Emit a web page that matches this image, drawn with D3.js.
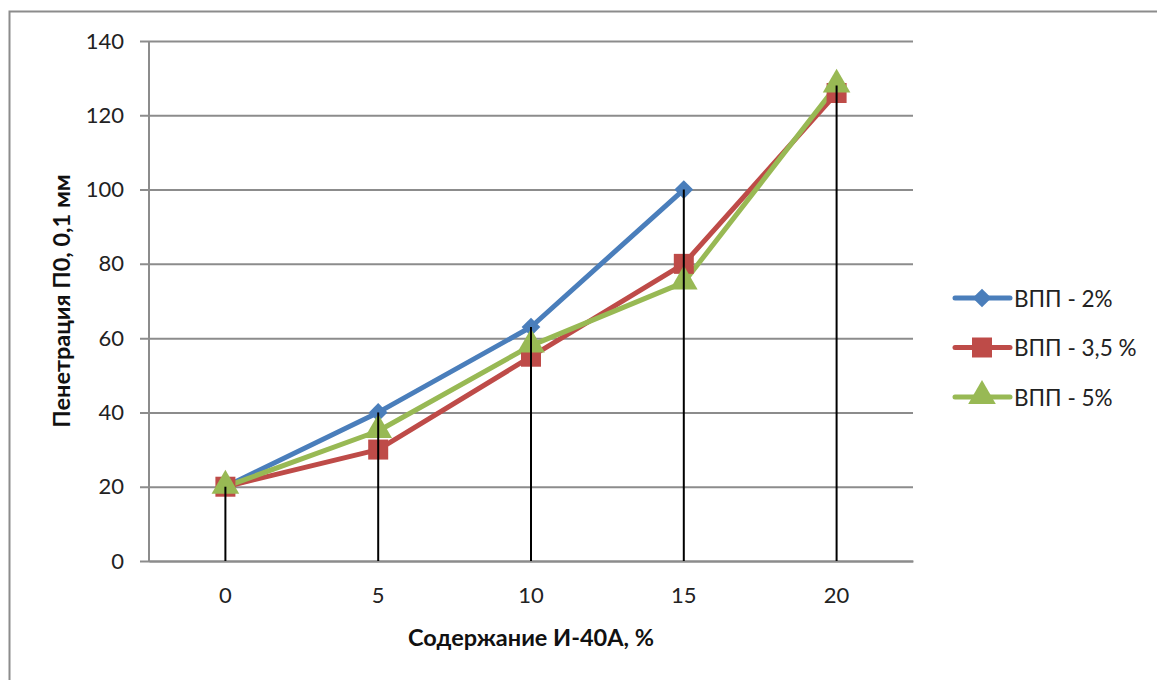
<!DOCTYPE html>
<html><head><meta charset="utf-8">
<script src="https://cdn.jsdelivr.net/npm/d3@7"></script>
<style>body{margin:0;background:#fff}svg{display:block}</style>
</head><body>
<svg id="c" width="1157" height="680"></svg>
<script>
const categories = ["0", "5", "10", "15", "20"];
const seriesNames = ["ВПП - 2%", "ВПП - 3,5 %", "ВПП - 5%"];
const vpp2 = [20, 40, 63, 100, null];
const vpp35 = [20, 30, 55, 80, 126];
const vpp5 = [20, 35, 58, 75, 128];
const yTicks = [0, 20, 40, 60, 80, 100, 120, 140];
const colors = ["#4A7EBB", "#BE4B48", "#98B954"];
const symbols = [d3.symbolSquare, d3.symbolSquare, d3.symbolTriangle];
const rotations = [45, 0, 0];

const series = [vpp2, vpp35, vpp5].map((v, i) => ({name: seriesNames[i], values: v, color: colors[i], symbol: symbols[i], rot: rotations[i]}));

const svg = d3.select("#c");
const font = "Lato, 'Open Sans', sans-serif";

// outer border
svg.append("rect").attr("x", 9.5).attr("y", 11.5).attr("width", 1160).attr("height", 700)
  .attr("fill", "none").attr("stroke", "#8c8c8c").attr("stroke-width", 2);

const L = 149, R = 913, T = 41, B = 561;
const x = d3.scaleBand().domain(categories).range([L, R]);
const cx = c => x(c) + x.bandwidth() / 2;
const y = d3.scaleLinear().domain([0, 140]).range([B, T]);

// gridlines + y axis
const yAxis = d3.axisLeft(y).tickValues(yTicks).tickSize(-(R - L)).tickPadding(25).tickSizeOuter(0);
const gy = svg.append("g").attr("transform", `translate(${L},0)`).call(yAxis);
gy.select(".domain").attr("stroke", "#8c8c8c").attr("stroke-width", 2).attr("d", `M0,${T}V${B}`);
gy.selectAll(".tick line").attr("stroke", "#8c8c8c").attr("stroke-width", 2).attr("x1", -9);
gy.selectAll(".tick text").attr("font-family", font).attr("font-size", 22).attr("fill", "#222");

// x axis
const xAxis = d3.axisBottom(x).tickSize(0).tickPadding(26);
const gx = svg.append("g").attr("transform", `translate(0,${B})`).call(xAxis);
gx.select(".domain").attr("stroke", "#8c8c8c").attr("stroke-width", 2);
gx.selectAll(".tick text").attr("font-family", font).attr("font-size", 22).attr("fill", "#222");

// lines
const line = d3.line().defined(d => d.v != null).x(d => cx(d.c)).y(d => y(d.v));
series.forEach(s => {
  const pts = s.values.map((v, i) => ({c: categories[i], v}));
  svg.append("path").datum(pts).attr("d", line).attr("fill", "none")
    .attr("stroke", s.color).attr("stroke-width", 5).attr("stroke-linejoin", "round");
});
// markers
const symSize = [175, 400, 330];
series.forEach((s, si) => {
  const pts = s.values.map((v, i) => ({c: categories[i], v})).filter(d => d.v != null);
  svg.append("g").selectAll("path").data(pts).join("path")
    .attr("d", d3.symbol().type(s.symbol).size(symSize[si]))
    .attr("transform", d => `translate(${cx(d.c)},${y(d.v) + (si === 2 ? -1 : 0)}) rotate(${s.rot})`)
    .attr("fill", s.color);
});

// drop lines (high value to axis)
const maxes = categories.map((c, i) => d3.max(series, s => s.values[i]));
svg.append("g").selectAll("line").data(categories).join("line")
  .attr("x1", c => cx(c)).attr("x2", c => cx(c))
  .attr("y1", (c, i) => y(maxes[i])).attr("y2", B)
  .attr("stroke", "#000").attr("stroke-width", 2);

// axis titles
svg.append("text").attr("x", 531).attr("y", 646).attr("text-anchor", "middle")
  .attr("font-family", font).attr("font-weight", "bold").attr("font-size", 23.5).attr("fill", "#111")
  .text("Содержание И-40А, %");
svg.append("text").attr("transform", "translate(70,301) rotate(-90)").attr("text-anchor", "middle")
  .attr("font-family", font).attr("font-weight", "bold").attr("font-size", 23.5).attr("fill", "#111")
  .text("Пенетрация П0, 0,1 мм");

// legend
const lg = svg.append("g");
series.forEach((s, i) => {
  const yy = 298 + i * 49.5;
  lg.append("line").attr("x1", 955).attr("x2", 1010).attr("y1", yy).attr("y2", yy)
    .attr("stroke", s.color).attr("stroke-width", 5).attr("stroke-linecap", "round");
  lg.append("path").attr("d", d3.symbol().type(s.symbol).size(symSize[i]))
    .attr("transform", `translate(982,${yy + (i === 2 ? -1 : 0)}) rotate(${s.rot})`).attr("fill", s.color);
  lg.append("text").attr("x", 1014).attr("y", yy + 1).attr("dy", "0.35em")
    .attr("font-family", font).attr("font-size", 22.5).attr("fill", "#222").text(s.name);
});
</script>
</body></html>
